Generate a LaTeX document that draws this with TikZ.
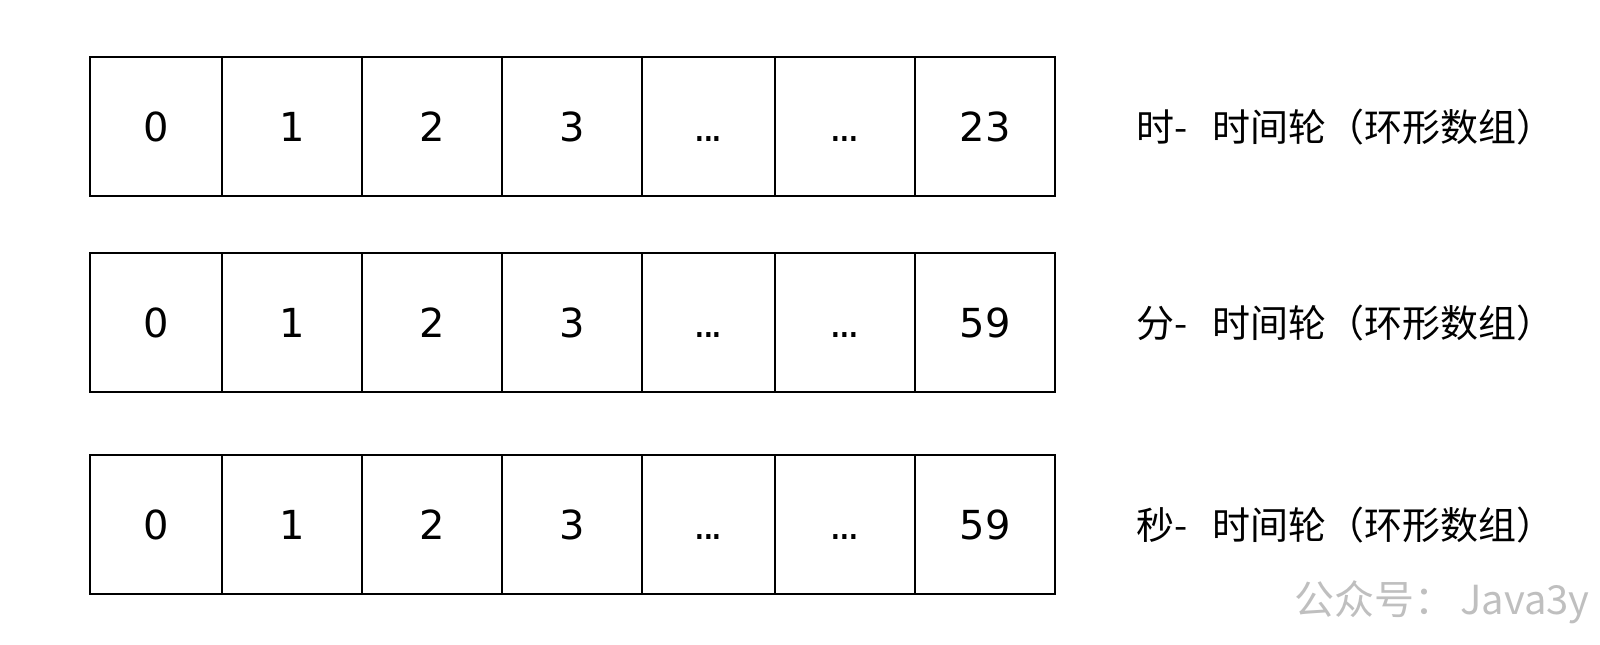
\documentclass[tikz,border=0pt]{standalone}
\usepackage{fontspec}
\setmainfont{DejaVu Sans}
\newfontfamily\cjk{Noto Sans CJK SC}
\newcommand\dotrow{\vphantom{0}.\kern-.1em.\kern-.1em.}
\begin{document}
\begin{tikzpicture}[x=0.5pt,y=-0.5pt,
	cell/.style={draw,line width=1pt,inner sep=0pt,outer sep=0pt,anchor=north west,minimum height=69.5pt,font=\fontsize{20}{22}\selectfont},
	wheel/.style={anchor=west,inner sep=0pt,font=\cjk\fontsize{19}{23}\selectfont}]
	\useasboundingbox (0,0) rectangle (1600,644);
	\foreach \row/\y/\last/\unit in {h/57/23/时,m/253/59/分,s/455/59/秒} {
		\foreach \i/\a/\b/\t in {0/90/222/0,1/222/362/1,2/362/502/2,3/502/642/3,4/642/775/\dotrow,5/775/915/\dotrow,6/915/1055/\last}
			\node[cell,minimum width={(\b-\a)*0.5pt}] (\row\i) at (\a,\y) {\t};
		\node[wheel] (\row label) at (1136,\y+70) {\unit-\hspace{0.65em}时间轮（环形数组）};
	}
	\node[anchor=east,inner sep=0pt,text=black!25,font=\cjk\fontsize{20}{24}\selectfont] (mark) at (1590,602) {公众号：\hspace{0.15em}Java3y};
\end{tikzpicture}
\end{document}
